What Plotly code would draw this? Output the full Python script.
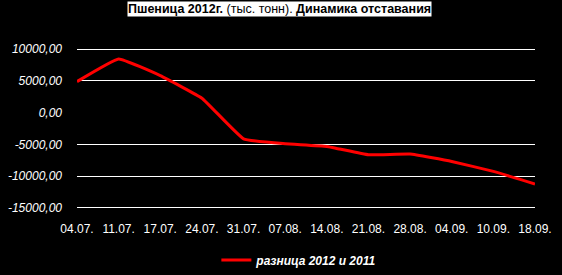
import plotly.graph_objects as go

dates = ["04.07.", "11.07.", "17.07.", "24.07.", "31.07.", "07.08.", "14.08.",
         "21.08.", "28.08.", "04.09.", "10.09.", "18.09."]
diff_2012_2011 = [4900, 8470, 5840, 2280, -4130, -4910, -5330, -6650, -6540, -7700, -9270, -11260]
y_ticks = [-15000, -10000, -5000, 0, 5000, 10000]
y_tick_text = ["-15000,00", "-10000,00", "-5000,00", "0,00", "5000,00", "10000,00"]

fig = go.Figure()
fig.add_trace(go.Scatter(
    x=dates, y=diff_2012_2011, mode="lines",
    name="<b><i>разница 2012 и 2011</i></b>",
    line=dict(color="#ff0000", width=3, shape="spline", smoothing=0.3),
))

fig.update_layout(
    width=562, height=275,
    paper_bgcolor="black", plot_bgcolor="black",
    margin=dict(l=77, r=27, t=48, b=66, autoexpand=False),
    font=dict(family="Liberation Sans, Arial", size=12, color="white"),
    showlegend=True,
    legend=dict(orientation="h", xref="container", yref="container",
                x=0.385, xanchor="left", y=0.0545, yanchor="middle",
                font=dict(size=12, color="white", family="Liberation Sans, Arial"),
                bgcolor="rgba(0,0,0,0)", itemwidth=30),
    xaxis=dict(type="category", range=[0, len(dates) - 1], showgrid=False, zeroline=False,
               showline=False, ticks="", ticklabelstandoff=11,
               tickfont=dict(size=12, color="white")),
    yaxis=dict(range=[-15200, 10200], tickvals=y_ticks, ticktext=y_tick_text,
               showgrid=True, gridcolor="white", gridwidth=1,
               zeroline=True, zerolinecolor="black", zerolinewidth=3,
               showline=False, ticks="", ticklabelstandoff=14,
               tickfont=dict(size=12, color="white", style="italic")),
)

fig.add_annotation(
    xref="paper", yref="paper", x=0.443, y=1.29, xanchor="center", yanchor="top",
    text="<b>Пшеница 2012г.</b> (тыс. тонн). <b>Динамика отставания</b>",
    showarrow=False, bgcolor="white", borderpad=0,
    font=dict(size=12.5, color="black", family="Liberation Sans, Arial"),
)

fig.write_html("out.html")
